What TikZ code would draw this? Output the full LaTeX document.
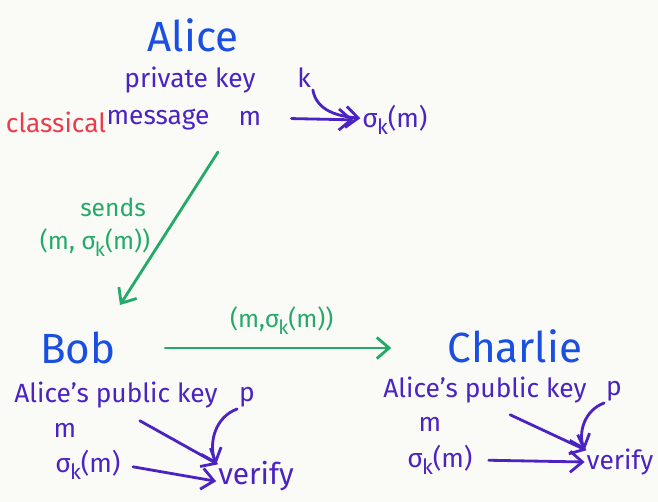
\documentclass[tikz,border=0pt]{standalone}
\usepackage{fontspec}
\setmainfont{Fira Sans}
\usetikzlibrary{arrows.meta,positioning}
\definecolor{namecol}{RGB}{25,80,225}
\definecolor{inkcol}{RGB}{75,35,195}
\definecolor{sendcol}{RGB}{35,170,105}
\definecolor{redcol}{RGB}{235,60,75}
\definecolor{papercol}{RGB}{250,250,246}
\newcommand{\sigk}{σ\kern-0.5pt\raisebox{-0.55ex}{\scalebox{0.8}{k}}}

\begin{document}
\begin{tikzpicture}[x=0.02cm, y=-0.02cm, >={Straight Barb[length=7pt,width=12pt]},
  who/.style={text=namecol, font=\fontsize{24}{28}\selectfont, inner sep=1pt},
  txt/.style={text=inkcol, font=\fontsize{15}{18}\selectfont, inner sep=1pt},
  arr/.style={->, draw=inkcol, line width=1.6pt, line cap=round},
  send/.style={->, draw=sendcol, line width=1.6pt, line cap=round},
  grn/.style={text=sendcol, font=\fontsize{14}{17}\selectfont, inner sep=1pt}]
\fill[papercol] (0,0) rectangle (658,502);
\useasboundingbox (0,0) rectangle (658,502);
% Alice (top)
\node[who] (alice) at (193,35) {Alice};
\node[txt] (priv) at (190,80) {private key};
\node[txt] (k) at (304,78) {k};
\node[txt, text=redcol] (cls) at (56,122) {classical};
\node[txt] (msg) at (158,120) {message};
\node[txt] (m) at (250,118) {m};
\node[txt] (sig) at (395,120) {\sigk(m)};
\draw[arr, shorten <=16pt, shorten >=4pt] (m.east) -- (sig.west);
\draw[arr] (k.south east) to[out=-80,in=175] ([yshift=1pt]sig.west);
% Alice sends to Bob
\coordinate (sendA) at (218,152);
\coordinate (sendB) at (120,305);
\draw[send] (sendA) -- (sendB);
\node[grn] (sends) at (113,207) {sends};
\node[grn] (pairA) at (95,243) {(m, \sigk(m))};
% Bob and Charlie
\node[who] (bob) at (78,348) {Bob};
\node[who] (charlie) at (515,346) {Charlie};
\draw[send, shorten <=27pt, shorten >=31pt] (bob.east) -- (charlie.west |- bob.east)
  node[grn, midway, above=6pt] (pairB) {(m,\sigk(m))};
% Bob verifies
\node[txt] (bpub) at (116,395) {Alice's public key};
\node[txt] (bp) at (247,397) {p};
\node[txt] (bm) at (65,430) {m};
\node[txt] (bsig) at (88,465) {\sigk(m)};
\node[txt, font=\fontsize{17}{20}\selectfont] (bver) at (256,476) {verify};
\draw[arr, shorten <=6pt] (bsig.east) -- ([yshift=-3pt]bver.west);
\draw[arr] ([xshift=35pt]bm.north east) -- ([xshift=1pt,yshift=-3pt]bver.north west);
\draw[arr] (bp.south west) to[out=200,in=110] ([yshift=-3pt]bver.north west);
% Charlie verifies
\node[txt] (cpub) at (485,390) {Alice's public key};
\node[txt] (cp) at (614,391) {p};
\node[txt] (cm) at (430,424) {m};
\node[txt] (csig) at (440,460) {\sigk(m)};
\node[txt] (cver) at (620,462) {verify};
\draw[arr, shorten <=8pt] (csig.east) -- (cver.west);
\draw[arr] ([xshift=38pt]cm.north east) -- ([xshift=1pt,yshift=-2pt]cver.north west);
\draw[arr] (cp.south west) to[out=200,in=110] ([yshift=-2pt]cver.north west);
\end{tikzpicture}
\end{document}
